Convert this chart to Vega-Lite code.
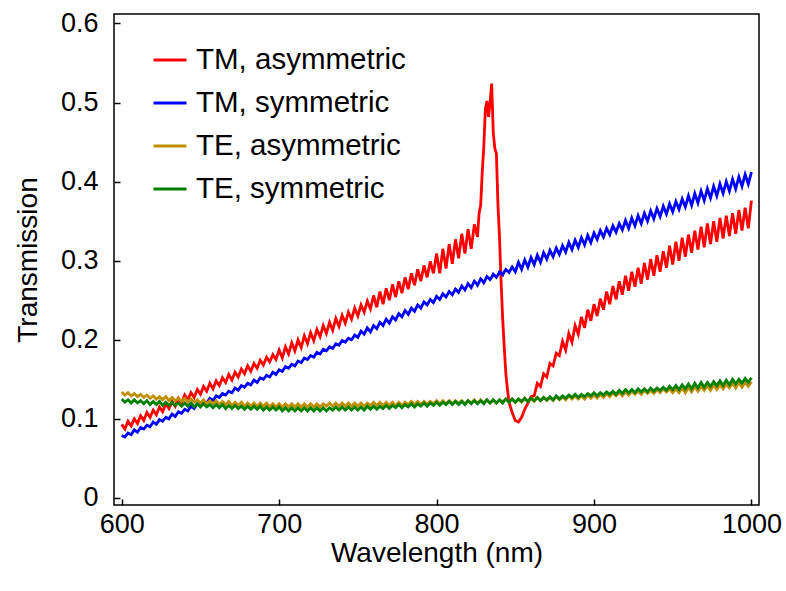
{
"$schema": "https://vega.github.io/schema/vega-lite/v6.json",
"width": 645,
"height": 491,
"autosize": {"type": "none"},
"padding": {"left": 114, "top": 14, "right": 27, "bottom": 86},
"background": "white",
"config": {"font": "Liberation Sans", "view": {"stroke": "black", "strokeWidth": 1.5}},
"data": {"values": [
{"w":600,"a":0.093,"b":0.079,"c":0.134,"d":0.125},
{"w":602,"a":0.087,"b":0.077,"c":0.130,"d":0.121},
{"w":604,"a":0.097,"b":0.082,"c":0.133,"d":0.124},
{"w":606,"a":0.091,"b":0.080,"c":0.129,"d":0.120},
{"w":608,"a":0.100,"b":0.086,"c":0.132,"d":0.124},
{"w":610,"a":0.094,"b":0.083,"c":0.128,"d":0.120},
{"w":612,"a":0.104,"b":0.089,"c":0.131,"d":0.123},
{"w":614,"a":0.098,"b":0.087,"c":0.127,"d":0.119},
{"w":616,"a":0.108,"b":0.092,"c":0.130,"d":0.123},
{"w":618,"a":0.102,"b":0.090,"c":0.126,"d":0.118},
{"w":620,"a":0.111,"b":0.096,"c":0.129,"d":0.122},
{"w":622,"a":0.105,"b":0.093,"c":0.125,"d":0.118},
{"w":624,"a":0.115,"b":0.099,"c":0.128,"d":0.122},
{"w":626,"a":0.109,"b":0.097,"c":0.124,"d":0.117},
{"w":628,"a":0.119,"b":0.102,"c":0.128,"d":0.121},
{"w":630,"a":0.113,"b":0.100,"c":0.123,"d":0.117},
{"w":632,"a":0.122,"b":0.106,"c":0.127,"d":0.121},
{"w":634,"a":0.116,"b":0.103,"c":0.123,"d":0.117},
{"w":636,"a":0.126,"b":0.109,"c":0.126,"d":0.120},
{"w":638,"a":0.120,"b":0.107,"c":0.122,"d":0.116},
{"w":640,"a":0.130,"b":0.112,"c":0.126,"d":0.120},
{"w":642,"a":0.124,"b":0.110,"c":0.121,"d":0.116},
{"w":644,"a":0.133,"b":0.116,"c":0.125,"d":0.120},
{"w":646,"a":0.127,"b":0.113,"c":0.121,"d":0.115},
{"w":648,"a":0.137,"b":0.119,"c":0.124,"d":0.119},
{"w":650,"a":0.131,"b":0.117,"c":0.120,"d":0.115},
{"w":652,"a":0.141,"b":0.122,"c":0.124,"d":0.119},
{"w":654,"a":0.135,"b":0.120,"c":0.119,"d":0.115},
{"w":656,"a":0.145,"b":0.126,"c":0.123,"d":0.118},
{"w":658,"a":0.138,"b":0.123,"c":0.119,"d":0.114},
{"w":660,"a":0.148,"b":0.129,"c":0.123,"d":0.118},
{"w":662,"a":0.142,"b":0.127,"c":0.118,"d":0.114},
{"w":664,"a":0.152,"b":0.132,"c":0.122,"d":0.118},
{"w":666,"a":0.146,"b":0.130,"c":0.118,"d":0.113},
{"w":668,"a":0.156,"b":0.135,"c":0.122,"d":0.117},
{"w":670,"a":0.149,"b":0.133,"c":0.117,"d":0.113},
{"w":672,"a":0.159,"b":0.139,"c":0.121,"d":0.117},
{"w":674,"a":0.153,"b":0.136,"c":0.117,"d":0.113},
{"w":676,"a":0.163,"b":0.142,"c":0.121,"d":0.116},
{"w":678,"a":0.157,"b":0.140,"c":0.116,"d":0.112},
{"w":680,"a":0.167,"b":0.145,"c":0.120,"d":0.116},
{"w":682,"a":0.160,"b":0.143,"c":0.116,"d":0.112},
{"w":684,"a":0.170,"b":0.149,"c":0.120,"d":0.116},
{"w":686,"a":0.164,"b":0.146,"c":0.116,"d":0.112},
{"w":688,"a":0.174,"b":0.152,"c":0.120,"d":0.116},
{"w":690,"a":0.168,"b":0.150,"c":0.116,"d":0.111},
{"w":692,"a":0.178,"b":0.155,"c":0.120,"d":0.115},
{"w":694,"a":0.172,"b":0.153,"c":0.115,"d":0.111},
{"w":696,"a":0.181,"b":0.159,"c":0.119,"d":0.115},
{"w":698,"a":0.175,"b":0.156,"c":0.115,"d":0.111},
{"w":700,"a":0.187,"b":0.162,"c":0.119,"d":0.115},
{"w":702,"a":0.177,"b":0.160,"c":0.115,"d":0.110},
{"w":704,"a":0.191,"b":0.166,"c":0.119,"d":0.114},
{"w":706,"a":0.182,"b":0.164,"c":0.115,"d":0.110},
{"w":708,"a":0.196,"b":0.169,"c":0.119,"d":0.114},
{"w":710,"a":0.186,"b":0.167,"c":0.115,"d":0.110},
{"w":712,"a":0.200,"b":0.173,"c":0.119,"d":0.114},
{"w":714,"a":0.190,"b":0.171,"c":0.115,"d":0.110},
{"w":716,"a":0.205,"b":0.177,"c":0.119,"d":0.114},
{"w":718,"a":0.195,"b":0.175,"c":0.115,"d":0.110},
{"w":720,"a":0.209,"b":0.180,"c":0.119,"d":0.114},
{"w":722,"a":0.199,"b":0.178,"c":0.115,"d":0.110},
{"w":724,"a":0.213,"b":0.184,"c":0.119,"d":0.114},
{"w":726,"a":0.204,"b":0.182,"c":0.115,"d":0.110},
{"w":728,"a":0.218,"b":0.188,"c":0.119,"d":0.114},
{"w":730,"a":0.208,"b":0.186,"c":0.116,"d":0.110},
{"w":732,"a":0.222,"b":0.191,"c":0.120,"d":0.114},
{"w":734,"a":0.212,"b":0.189,"c":0.116,"d":0.111},
{"w":736,"a":0.227,"b":0.195,"c":0.120,"d":0.115},
{"w":738,"a":0.217,"b":0.193,"c":0.116,"d":0.111},
{"w":740,"a":0.231,"b":0.199,"c":0.120,"d":0.115},
{"w":742,"a":0.221,"b":0.197,"c":0.116,"d":0.111},
{"w":744,"a":0.235,"b":0.202,"c":0.120,"d":0.115},
{"w":746,"a":0.226,"b":0.200,"c":0.116,"d":0.111},
{"w":748,"a":0.240,"b":0.206,"c":0.120,"d":0.115},
{"w":750,"a":0.230,"b":0.203,"c":0.116,"d":0.111},
{"w":752,"a":0.244,"b":0.211,"c":0.120,"d":0.115},
{"w":754,"a":0.235,"b":0.207,"c":0.116,"d":0.111},
{"w":756,"a":0.249,"b":0.215,"c":0.120,"d":0.116},
{"w":758,"a":0.239,"b":0.210,"c":0.117,"d":0.112},
{"w":760,"a":0.256,"b":0.218,"c":0.121,"d":0.116},
{"w":762,"a":0.241,"b":0.214,"c":0.117,"d":0.112},
{"w":764,"a":0.261,"b":0.222,"c":0.121,"d":0.116},
{"w":766,"a":0.245,"b":0.218,"c":0.117,"d":0.113},
{"w":768,"a":0.265,"b":0.226,"c":0.121,"d":0.117},
{"w":770,"a":0.250,"b":0.221,"c":0.117,"d":0.113},
{"w":772,"a":0.270,"b":0.229,"c":0.121,"d":0.117},
{"w":774,"a":0.254,"b":0.225,"c":0.117,"d":0.114},
{"w":776,"a":0.274,"b":0.233,"c":0.121,"d":0.118},
{"w":778,"a":0.259,"b":0.229,"c":0.117,"d":0.114},
{"w":780,"a":0.279,"b":0.237,"c":0.121,"d":0.118},
{"w":782,"a":0.264,"b":0.232,"c":0.118,"d":0.115},
{"w":784,"a":0.284,"b":0.240,"c":0.122,"d":0.119},
{"w":786,"a":0.269,"b":0.236,"c":0.118,"d":0.115},
{"w":788,"a":0.289,"b":0.244,"c":0.122,"d":0.119},
{"w":790,"a":0.274,"b":0.240,"c":0.118,"d":0.116},
{"w":792,"a":0.294,"b":0.248,"c":0.122,"d":0.120},
{"w":794,"a":0.279,"b":0.244,"c":0.118,"d":0.116},
{"w":796,"a":0.299,"b":0.251,"c":0.122,"d":0.120},
{"w":798,"a":0.284,"b":0.247,"c":0.119,"d":0.117},
{"w":800,"a":0.309,"b":0.255,"c":0.123,"d":0.121},
{"w":802,"a":0.284,"b":0.251,"c":0.119,"d":0.117},
{"w":804,"a":0.315,"b":0.258,"c":0.123,"d":0.121},
{"w":806,"a":0.290,"b":0.254,"c":0.119,"d":0.118},
{"w":808,"a":0.321,"b":0.261,"c":0.123,"d":0.122},
{"w":810,"a":0.296,"b":0.257,"c":0.119,"d":0.118},
{"w":812,"a":0.327,"b":0.264,"c":0.123,"d":0.122},
{"w":814,"a":0.303,"b":0.260,"c":0.119,"d":0.118},
{"w":816,"a":0.334,"b":0.268,"c":0.123,"d":0.122},
{"w":818,"a":0.309,"b":0.263,"c":0.119,"d":0.118},
{"w":820,"a":0.340,"b":0.271,"c":0.123,"d":0.123},
{"w":822,"a":0.315,"b":0.266,"c":0.120,"d":0.119},
{"w":824,"a":0.346,"b":0.274,"c":0.124,"d":0.123},
{"w":825,"a":0.338,"b":0.272,"c":0.122,"d":0.121},
{"w":826,"a":0.330,"b":0.269,"c":0.120,"d":0.119},
{"w":827,"a":0.360,"b":0.273,"c":0.122,"d":0.121},
{"w":828,"a":0.370,"b":0.277,"c":0.124,"d":0.123},
{"w":829,"a":0.412,"b":0.275,"c":0.122,"d":0.121},
{"w":830,"a":0.445,"b":0.272,"c":0.120,"d":0.119},
{"w":831,"a":0.492,"b":0.276,"c":0.122,"d":0.122},
{"w":832,"a":0.502,"b":0.280,"c":0.124,"d":0.124},
{"w":833,"a":0.482,"b":0.278,"c":0.122,"d":0.122},
{"w":834,"a":0.500,"b":0.276,"c":0.120,"d":0.120},
{"w":835,"a":0.524,"b":0.279,"c":0.122,"d":0.122},
{"w":836,"a":0.462,"b":0.283,"c":0.124,"d":0.124},
{"w":837,"a":0.442,"b":0.281,"c":0.122,"d":0.122},
{"w":838,"a":0.435,"b":0.279,"c":0.120,"d":0.120},
{"w":839,"a":0.370,"b":0.282,"c":0.122,"d":0.122},
{"w":840,"a":0.328,"b":0.286,"c":0.124,"d":0.124},
{"w":841,"a":0.272,"b":0.284,"c":0.123,"d":0.122},
{"w":842,"a":0.226,"b":0.282,"c":0.121,"d":0.120},
{"w":843,"a":0.190,"b":0.286,"c":0.123,"d":0.123},
{"w":844,"a":0.157,"b":0.289,"c":0.125,"d":0.125},
{"w":845,"a":0.138,"b":0.287,"c":0.123,"d":0.123},
{"w":846,"a":0.121,"b":0.285,"c":0.121,"d":0.121},
{"w":848,"a":0.108,"b":0.292,"c":0.125,"d":0.125},
{"w":850,"a":0.098,"b":0.286,"c":0.121,"d":0.121},
{"w":852,"a":0.096,"b":0.298,"c":0.125,"d":0.125},
{"w":854,"a":0.102,"b":0.289,"c":0.121,"d":0.122},
{"w":856,"a":0.112,"b":0.301,"c":0.126,"d":0.126},
{"w":858,"a":0.120,"b":0.292,"c":0.122,"d":0.122},
{"w":860,"a":0.128,"b":0.304,"c":0.126,"d":0.126},
{"w":862,"a":0.129,"b":0.295,"c":0.122,"d":0.123},
{"w":864,"a":0.145,"b":0.307,"c":0.127,"d":0.127},
{"w":866,"a":0.141,"b":0.298,"c":0.123,"d":0.123},
{"w":868,"a":0.157,"b":0.310,"c":0.127,"d":0.127},
{"w":870,"a":0.153,"b":0.302,"c":0.123,"d":0.124},
{"w":872,"a":0.170,"b":0.313,"c":0.127,"d":0.128},
{"w":874,"a":0.167,"b":0.305,"c":0.123,"d":0.124},
{"w":876,"a":0.183,"b":0.316,"c":0.128,"d":0.129},
{"w":878,"a":0.180,"b":0.308,"c":0.124,"d":0.125},
{"w":880,"a":0.198,"b":0.319,"c":0.128,"d":0.129},
{"w":882,"a":0.187,"b":0.311,"c":0.124,"d":0.126},
{"w":884,"a":0.208,"b":0.323,"c":0.129,"d":0.130},
{"w":886,"a":0.197,"b":0.314,"c":0.125,"d":0.127},
{"w":888,"a":0.218,"b":0.326,"c":0.129,"d":0.131},
{"w":890,"a":0.207,"b":0.317,"c":0.125,"d":0.127},
{"w":892,"a":0.229,"b":0.329,"c":0.129,"d":0.131},
{"w":894,"a":0.215,"b":0.320,"c":0.125,"d":0.128},
{"w":896,"a":0.238,"b":0.332,"c":0.130,"d":0.132},
{"w":898,"a":0.224,"b":0.323,"c":0.126,"d":0.129},
{"w":900,"a":0.245,"b":0.335,"c":0.130,"d":0.133},
{"w":902,"a":0.230,"b":0.327,"c":0.126,"d":0.129},
{"w":904,"a":0.252,"b":0.338,"c":0.131,"d":0.133},
{"w":906,"a":0.238,"b":0.330,"c":0.127,"d":0.130},
{"w":908,"a":0.261,"b":0.341,"c":0.132,"d":0.134},
{"w":910,"a":0.245,"b":0.333,"c":0.128,"d":0.131},
{"w":912,"a":0.268,"b":0.344,"c":0.133,"d":0.135},
{"w":914,"a":0.251,"b":0.336,"c":0.129,"d":0.131},
{"w":916,"a":0.274,"b":0.347,"c":0.133,"d":0.136},
{"w":918,"a":0.257,"b":0.339,"c":0.129,"d":0.132},
{"w":920,"a":0.281,"b":0.351,"c":0.134,"d":0.137},
{"w":922,"a":0.262,"b":0.341,"c":0.130,"d":0.133},
{"w":924,"a":0.286,"b":0.354,"c":0.135,"d":0.137},
{"w":926,"a":0.267,"b":0.344,"c":0.131,"d":0.133},
{"w":928,"a":0.291,"b":0.357,"c":0.135,"d":0.138},
{"w":930,"a":0.271,"b":0.347,"c":0.131,"d":0.134},
{"w":932,"a":0.297,"b":0.360,"c":0.136,"d":0.138},
{"w":934,"a":0.276,"b":0.350,"c":0.132,"d":0.134},
{"w":936,"a":0.302,"b":0.363,"c":0.136,"d":0.139},
{"w":938,"a":0.281,"b":0.353,"c":0.132,"d":0.135},
{"w":940,"a":0.307,"b":0.366,"c":0.137,"d":0.139},
{"w":942,"a":0.286,"b":0.356,"c":0.133,"d":0.136},
{"w":944,"a":0.312,"b":0.369,"c":0.138,"d":0.140},
{"w":946,"a":0.291,"b":0.359,"c":0.134,"d":0.136},
{"w":948,"a":0.319,"b":0.372,"c":0.138,"d":0.141},
{"w":950,"a":0.295,"b":0.362,"c":0.133,"d":0.137},
{"w":952,"a":0.324,"b":0.375,"c":0.138,"d":0.142},
{"w":954,"a":0.300,"b":0.365,"c":0.133,"d":0.137},
{"w":956,"a":0.329,"b":0.378,"c":0.139,"d":0.143},
{"w":958,"a":0.305,"b":0.368,"c":0.133,"d":0.138},
{"w":960,"a":0.333,"b":0.382,"c":0.140,"d":0.144},
{"w":962,"a":0.310,"b":0.370,"c":0.134,"d":0.138},
{"w":964,"a":0.338,"b":0.385,"c":0.141,"d":0.145},
{"w":966,"a":0.314,"b":0.373,"c":0.135,"d":0.139},
{"w":968,"a":0.343,"b":0.388,"c":0.141,"d":0.146},
{"w":970,"a":0.317,"b":0.376,"c":0.136,"d":0.140},
{"w":972,"a":0.347,"b":0.391,"c":0.142,"d":0.146},
{"w":974,"a":0.321,"b":0.379,"c":0.136,"d":0.141},
{"w":976,"a":0.350,"b":0.394,"c":0.143,"d":0.147},
{"w":978,"a":0.324,"b":0.382,"c":0.137,"d":0.142},
{"w":980,"a":0.354,"b":0.397,"c":0.143,"d":0.148},
{"w":982,"a":0.328,"b":0.385,"c":0.138,"d":0.142},
{"w":984,"a":0.357,"b":0.400,"c":0.144,"d":0.149},
{"w":986,"a":0.331,"b":0.388,"c":0.139,"d":0.143},
{"w":988,"a":0.360,"b":0.403,"c":0.145,"d":0.150},
{"w":990,"a":0.334,"b":0.391,"c":0.139,"d":0.144},
{"w":992,"a":0.364,"b":0.406,"c":0.146,"d":0.150},
{"w":994,"a":0.338,"b":0.394,"c":0.140,"d":0.145},
{"w":996,"a":0.367,"b":0.409,"c":0.146,"d":0.151},
{"w":998,"a":0.341,"b":0.397,"c":0.141,"d":0.146},
{"w":1000,"a":0.376,"b":0.412,"c":0.147,"d":0.152}
]},
"transform": [{"fold": ["a", "b", "c", "d"], "as": ["s", "t"]}],
"mark": {"type": "line", "strokeWidth": 2.8, "clip": true},
"encoding": {
  "x": {"field": "w", "type": "quantitative",
    "scale": {"domain": [595.1, 1004.8], "nice": false, "zero": false},
    "axis": {"values": [600, 700, 800, 900, 1000], "format": "d", "title": "Wavelength (nm)", "grid": false, "domain": false,
      "tickSize": -6, "tickColor": "black", "tickWidth": 1.5, "labelFontSize": 27, "labelColor": "black", "labelPadding": 12,
      "labelFlush": false, "titleFontSize": 28, "titleFontWeight": "normal", "titleColor": "black", "titlePadding": 2}},
  "y": {"field": "t", "type": "quantitative",
    "scale": {"domain": [-0.009, 0.612], "nice": false, "zero": false},
    "axis": {"values": [0, 0.1, 0.2, 0.3, 0.4, 0.5, 0.6], "format": "~g", "title": "Transmission", "grid": false, "domain": false,
      "tickSize": -6, "tickColor": "black", "tickWidth": 1.5, "labelFontSize": 27, "labelColor": "black", "labelPadding": 22,
      "labelFlush": false, "titleFontSize": 28, "titleFontWeight": "normal", "titleColor": "black", "titlePadding": 18}},
  "color": {"field": "s", "type": "nominal",
    "scale": {"domain": ["a", "b", "c", "d"], "range": ["#ff0000", "#0000ff", "#bf8f00", "#008000"]},
    "legend": {"orient": "none", "legendX": 38, "legendY": 28, "title": null, "padding": 0,
      "symbolType": "stroke", "symbolSize": 1089, "symbolStrokeWidth": 3,
      "labelFontSize": 29.5, "labelColor": "black", "labelOffset": 8, "rowPadding": 10, "labelLimit": 400,
      "labelExpr": "{'a': 'TM, asymmetric', 'b': 'TM, symmetric', 'c': 'TE, asymmetric', 'd': 'TE, symmetric'}[datum.label]"}}
}
}
